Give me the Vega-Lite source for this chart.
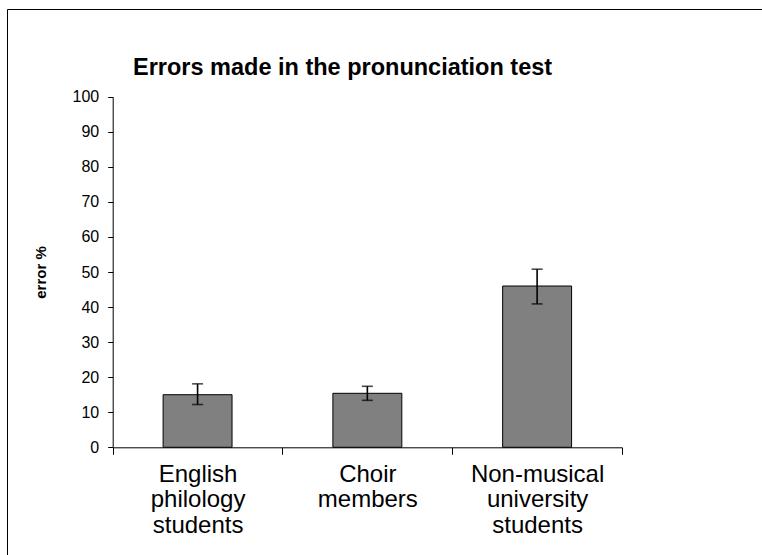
{
  "$schema": "https://vega.github.io/schema/vega-lite/v6.json",
  "width": 760,
  "height": 550,
  "autosize": {"type": "none"},
  "padding": {"left": 7, "top": 9, "right": 0, "bottom": 0},
  "background": "white",
  "config": {
    "view": {"stroke": "#000000", "strokeWidth": 1, "fill": "white"}
  },
  "title": {
    "text": "Errors made in the pronunciation test",
    "font": "Liberation Sans",
    "fontSize": 23.5,
    "fontWeight": "bold",
    "color": "#000000",
    "anchor": "start",
    "offset": 0,
    "dy": 89,
    "dx": 126,
    "baseline": "alphabetic"
  },
  "data": {
    "values": [
      {"group": "English philology students", "error": 15.0, "lo": 12.2, "hi": 18.1},
      {"group": "Choir members", "error": 15.4, "lo": 13.4, "hi": 17.4},
      {"group": "Non-musical university students", "error": 46.0, "lo": 40.9, "hi": 50.8}
    ]
  },
  "encoding": {
    "x": {
      "field": "group",
      "type": "nominal",
      "sort": null,
      "scale": {"range": [105.7, 615], "paddingInner": 0, "paddingOuter": 0},
      "axis": {
        "title": null,
        "orient": "bottom",
        "offset": -111.7,
        "tickBand": "extent",
        "tickSize": 7,
        "tickColor": "#000000",
        "domainColor": "#000000",
        "grid": false,
        "labelAngle": 0,
        "labelExpr": "split(datum.label, ' ')",
        "labelFont": "Liberation Sans",
        "labelFontSize": 24,
        "labelLineHeight": 25.5,
        "labelColor": "#000000",
        "labelPadding": 8,
        "labelOverlap": false
      }
    }
  },
  "layer": [
    {
      "mark": {"type": "bar", "width": {"band": 0.406}, "fill": "#808080", "stroke": "#000000", "strokeWidth": 1},
      "encoding": {
        "y": {
          "field": "error",
          "type": "quantitative",
          "scale": {"domain": [0, 100], "range": [438.3, 87.7], "nice": false, "zero": false},
          "axis": {
            "title": "error %",
            "orient": "left",
            "offset": -105.7,
            "values": [0, 10, 20, 30, 40, 50, 60, 70, 80, 90, 100],
            "grid": false,
            "domainColor": "#000000",
            "tickColor": "#000000",
            "tickSize": 5,
            "labelFont": "Liberation Sans",
            "labelFontSize": 16,
            "labelColor": "#000000",
            "labelPadding": 9,
            "titleFont": "Liberation Sans",
            "titleFontSize": 15,
            "titleFontWeight": "bold",
            "titleColor": "#000000",
            "titleAngle": -90,
            "titleBaseline": "middle",
            "titleX": -72,
            "titleY": 263
          }
        }
      }
    },
    {
      "mark": {"type": "rule", "strokeWidth": 1.6, "color": "#000000"},
      "encoding": {
        "y": {"field": "lo", "type": "quantitative"},
        "y2": {"field": "hi"}
      }
    },
    {
      "mark": {"type": "tick", "size": 11, "thickness": 1.6, "color": "#000000"},
      "encoding": {"y": {"field": "lo", "type": "quantitative"}}
    },
    {
      "mark": {"type": "tick", "size": 11, "thickness": 1.6, "color": "#000000"},
      "encoding": {"y": {"field": "hi", "type": "quantitative"}}
    }
  ]
}
